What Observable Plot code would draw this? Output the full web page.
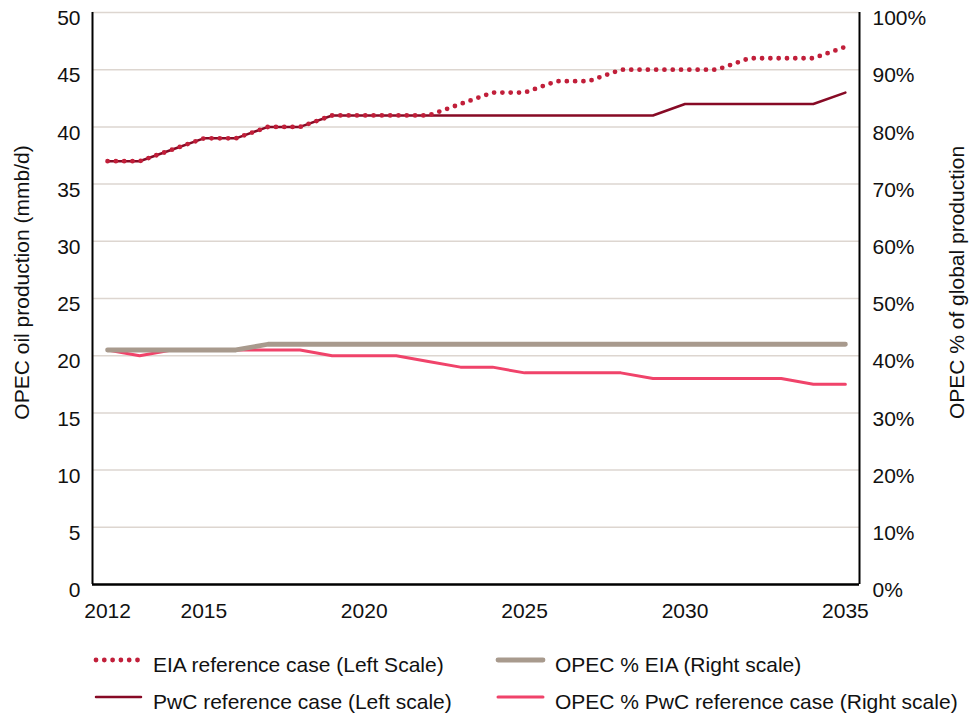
<!DOCTYPE html>
<html><head><meta charset="utf-8">
<script src="https://cdn.jsdelivr.net/npm/d3@7"></script>
<script src="https://cdn.jsdelivr.net/npm/@observablehq/plot@0.6"></script>
<style>
body{margin:0;background:#fff;font-family:"Liberation Sans",Arial,Helvetica,sans-serif;}
#chart svg{display:block}
#legend{position:relative;width:972px;height:82px;font-size:21px;color:#111;}
.item{position:absolute;display:flex;align-items:center;white-space:nowrap;height:22px}
.item svg{display:block;margin-right:8px}
</style></head><body>
<div id="chart"></div>
<div id="legend"></div>
<script>
const years = [2012,2013,2014,2015,2016,2017,2018,2019,2020,2021,2022,2023,2024,2025,2026,2027,2028,2029,2030,2031,2032,2033,2034,2035];
const eiaRef = [37,37,38,39,39,40,40,41,41,41,41,42,43,43,44,44,45,45,45,45,46,46,46,47];
const pwcRef = [37,37,38,39,39,40,40,41,41,41,41,41,41,41,41,41,41,41,42,42,42,42,42,43];
const opecPctEia = [41,41,41,41,41,42,42,42,42,42,42,42,42,42,42,42,42,42,42,42,42,42,42,42];
const opecPctPwc = [41,40,41,41,41,41,41,40,40,40,39,38,38,37,37,37,37,36,36,36,36,36,35,35];
const xTicks = [2012,2015,2020,2025,2030,2035];
const leftTicks = [0,5,10,15,20,25,30,35,40,45,50];
const rightTickLabels = ["0%","10%","20%","30%","40%","50%","60%","70%","80%","90%","100%"];
const seriesNames = ["EIA reference case (Left Scale)","PwC reference case (Left scale)","OPEC % EIA (Right scale)","OPEC % PwC reference case (Right scale)"];
const colors = {eia:"#c11f3a", pwc:"#870a25", grey:"#a89a8d", pink:"#f0436a", grid:"#ddd6d0"};

const data = years.map((y,i)=>({year:y, eia:eiaRef[i], pwc:pwcRef[i], pe:opecPctEia[i]/2, pp:opecPctPwc[i]/2}));
const xDom = [2012-0.47, 2035+0.44];

const chart = Plot.plot({
  width:972, height:632,
  marginLeft:92, marginRight:113, marginTop:12, marginBottom:48,
  style:{fontFamily:'"Liberation Sans",Arial,Helvetica,sans-serif', fontSize:"21px", color:"#111", background:"#fff"},
  x:{domain:xDom},
  y:{domain:[0,50]},
  marks:[
    Plot.gridY(leftTicks, {stroke:colors.grid, strokeOpacity:1, strokeWidth:1.5}),
    Plot.line(data, {x:"year", y:"pp", stroke:colors.pink, strokeWidth:3}),
    Plot.line(data, {x:"year", y:"pe", stroke:colors.grey, strokeWidth:4.8, strokeLinecap:"round"}),
    Plot.line(data, {x:"year", y:"pwc", stroke:colors.pwc, strokeWidth:2.5}),
    Plot.line(data, {x:"year", y:"eia", stroke:colors.eia, strokeWidth:4.8, strokeLinecap:"round", strokeDasharray:"0 8.3"}),
    Plot.ruleX(xDom, {stroke:"#000", strokeWidth:2}),
    Plot.ruleY([0], {stroke:"#000", strokeWidth:2.5}),
    Plot.axisY(leftTicks, {anchor:"left", tickSize:0, tickPadding:12, dy:6, label:null, fontSize:21}),
    Plot.axisY(leftTicks, {anchor:"right", tickSize:0, tickPadding:13, dy:6, label:null, fontSize:21, tickFormat:(d,i)=>rightTickLabels[i]}),
    Plot.axisX(xTicks, {anchor:"bottom", tickSize:0, tickPadding:19, label:null, fontSize:21, tickFormat:d=>String(d)}),
    Plot.text(["OPEC oil production (mmb/d)"], {frameAnchor:"left", textAnchor:"middle", dx:-70, dy:-16, rotate:-90, fontSize:21, fill:"#111"}),
    Plot.text(["OPEC % of global production"], {frameAnchor:"right", textAnchor:"middle", dx:98, dy:-16, rotate:-90, fontSize:21, fill:"#111"})
  ]
});
document.getElementById("chart").appendChild(chart);

const legend = document.getElementById("legend");
const items = [
  {name:seriesNames[0], left:93, top:22, kind:"dots", color:colors.eia},
  {name:seriesNames[2], left:495, top:22, kind:"line", color:colors.grey, w:4.8},
  {name:seriesNames[1], left:93, top:59, kind:"line", color:colors.pwc, w:2.5},
  {name:seriesNames[3], left:495, top:59, kind:"line", color:colors.pink, w:3}
];
for (const it of items) {
  const div = document.createElement("div");
  div.className = "item";
  div.style.left = it.left + "px";
  div.style.top = it.top + "px";
  const s = d3.create("svg").attr("width",52).attr("height",22);
  if (it.kind === "dots") {
    s.append("line").attr("x1",3).attr("x2",50).attr("y1",6).attr("y2",6)
      .attr("stroke",it.color).attr("stroke-width",4.8).attr("stroke-linecap","round").attr("stroke-dasharray","0 8.3");
  } else {
    s.append("line").attr("x1",3).attr("x2",48).attr("y1",6).attr("y2",6)
      .attr("stroke",it.color).attr("stroke-width",it.w).attr("stroke-linecap","round");
  }
  div.appendChild(s.node());
  const t = document.createElement("span");
  t.textContent = it.name;
  div.appendChild(t);
  legend.appendChild(div);
}
</script>
</body></html>
